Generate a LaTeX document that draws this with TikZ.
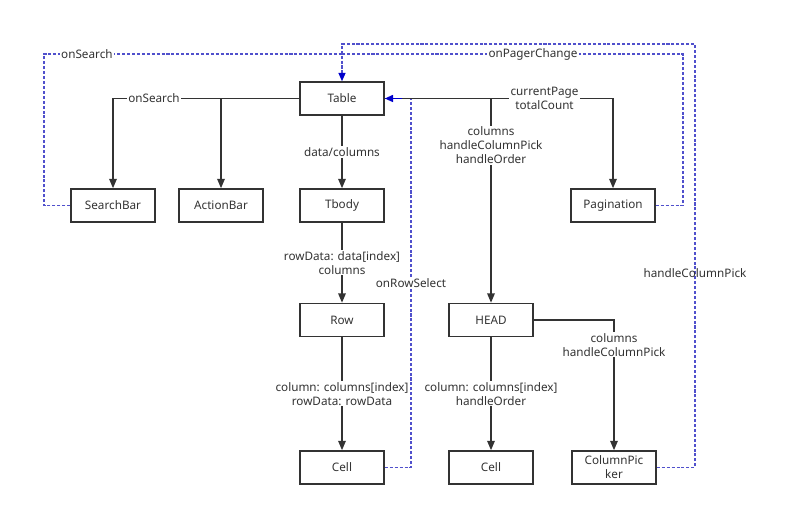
\documentclass[tikz,border=0pt]{standalone}
\usepackage{fontspec}
\setmainfont{Noto Sans}
\usetikzlibrary{arrows.meta, positioning}
\definecolor{linegray}{HTML}{333333}
\definecolor{flowblue}{HTML}{5050CC}
\definecolor{tipblue}{HTML}{0000CC}

\begin{document}
\begin{tikzpicture}[x=0.03cm, y=-0.03cm, font=\fontsize{10}{12}\selectfont, text=linegray,
    comp/.style={draw=linegray, line width=1.4pt, minimum width=2.52cm, minimum height=0.99cm, inner sep=1pt, align=center},
    conn/.style={draw=linegray, line width=1.2pt, -{Triangle[length=8pt, width=6.5pt]}},
    flow/.style={draw=flowblue, line width=0.9pt, dash pattern=on 2.6pt off 1.6pt},
    flowtip/.style={-{Triangle[length=7pt, width=6pt, color=tipblue]}},
    lab/.style={fill=white, inner sep=1pt, align=center, font=\fontsize{10}{12}\selectfont}]
    \useasboundingbox (0,0) rectangle (800,514);

    % components
    \node[comp] (table) at (342,98.5) {Table};
    \node[comp] (searchbar) at (113,205.5) {SearchBar};
    \node[comp] (actionbar) at (221,205.5) {ActionBar};
    \node[comp] (tbody) at (342,205.5) {Tbody};
    \node[comp] (pagination) at (613,205.5) {Pagination};
    \node[comp] (row) at (342,320) {Row};
    \node[comp] (head) at (491,320) {HEAD};
    \node[comp] (rowcell) at (342,467.5) {Cell};
    \node[comp] (headcell) at (491,467.5) {Cell};
    \node[comp] (colpicker) at (614,467.5) {ColumnPic\\ker};

    % dashed callbacks
    \draw[flow] (pagination.east) -- (683,205.5) |- node[lab, pos=0.72] {onPagerChange} (342,54);
    \draw[flow, flowtip] (searchbar.west) -- (44,205.5) |- node[lab, pos=0.572] {onSearch} (342,54) -- (table.north);
    \draw[flow] (colpicker.east) -- (695,467.5) |- node[pos=0.229, inner sep=1pt] {handleColumnPick} (342,44) -- (342,54);
    \draw[flow] (rowcell.east) -- (411,467.5) |- node[lab, pos=0.25] {onRowSelect} (table.east);

    % props
    \draw[conn] (table.west) -| node[lab, pos=0.39] {onSearch} (searchbar.north);
    \draw[conn] (actionbar.north |- table.west) -- (actionbar.north);
    \draw[conn] (table) -- node[lab] {data/columns} (tbody);
    \draw[conn] (tbody) -- node[lab] {rowData: data[index]\\columns} (row);
    \draw[conn] (row) -- node[lab] {column: columns[index]\\rowData: rowData} (rowcell);
    \draw[conn] (table.east) -| node[lab, pos=0.35] {currentPage\\totalCount} (pagination.north);
    \draw[conn] (head.north |- table.east) -- node[lab, pos=0.23] {columns\\handleColumnPick\\handleOrder} (head.north);
    \draw[conn] (head) -- node[lab] {column: columns[index]\\handleOrder} (headcell);
    \draw[conn] (head.east) -| node[lab, pos=0.595] {columns\\handleColumnPick} (colpicker.north);

    % blue tip into Table
    \draw[tipblue, line width=1.2pt, flowtip] (402,98.5) -- (table.east);
\end{tikzpicture}
\end{document}
